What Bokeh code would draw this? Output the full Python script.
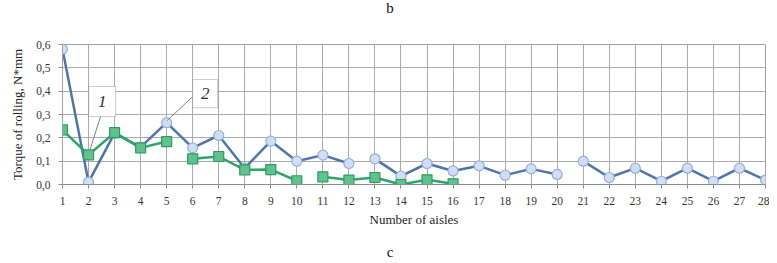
from bokeh.plotting import figure
from bokeh.models import (Range1d, FixedTicker, CustomJSTickFormatter,
                          BoxAnnotation, Label, Div)
from bokeh.layouts import column
from bokeh.embed import file_html
from bokeh.resources import INLINE
import numpy as np

aisles = list(range(1, 29))
# series 1 (blue circles); NaN marks breaks in the line
blue = [0.58, 0.01, 0.22, 0.16, 0.265, 0.157, 0.21, 0.07, 0.186, 0.10, 0.126, 0.09,
        0.11, 0.036, 0.09, 0.058, 0.08, 0.04, 0.067, 0.043,
        0.10, 0.03, 0.07, 0.014, 0.07, 0.014, 0.07, 0.019]
blue_breaks = [12, 20]  # line is broken after these aisles
# series 2 (green squares), aisles 1..16
green_x = list(range(1, 17))
green = [0.234, 0.127, 0.222, 0.157, 0.184, 0.11, 0.12, 0.063, 0.064, 0.016,
         0.033, 0.019, 0.03, 0.0, 0.02, 0.003]
green_breaks = [5, 10]

y_ticks = [0.0, 0.1, 0.2, 0.3, 0.4, 0.5, 0.6]

FONT = "Liberation Serif"

def with_breaks(xs, ys, breaks):
    ox, oy = [], []
    for x, y in zip(xs, ys):
        ox.append(x); oy.append(y)
        if x in breaks:
            ox.append(np.nan); oy.append(np.nan)
    return ox, oy

p = figure(width=769, height=214, output_backend="svg", toolbar_location=None,
           x_range=Range1d(1, 28), y_range=Range1d(0, 0.6),
           min_border_left=62, min_border_right=4, min_border_top=24, min_border_bottom=50)
p.background_fill_color = "white"
p.outline_line_color = "#a0a0a0"

p.xaxis.ticker = FixedTicker(ticks=aisles)
p.yaxis.ticker = FixedTicker(ticks=y_ticks)
p.yaxis.formatter = CustomJSTickFormatter(code="return tick.toFixed(1).replace('.', ',');")
for ax in (p.xaxis[0], p.yaxis[0]):
    ax.major_label_text_font = FONT
    ax.major_label_text_font_size = "11.5px"
    ax.major_label_text_color = "#333333"
    ax.axis_label_text_font = FONT
    ax.axis_label_text_font_style = "normal"
    ax.axis_label_text_font_size = "13px"
    ax.axis_label_text_color = "#222222"
    ax.minor_tick_line_color = None
    ax.major_tick_in = 0
    ax.major_tick_out = 4
    ax.major_tick_line_color = "#8c8c8c"
p.xaxis.axis_line_color = "#8c8c8c"
p.yaxis.axis_line_color = "#a0a0a0"
p.xaxis.axis_label = "Number of aisles"
p.yaxis.axis_label = "Torque of rolling, N*mm"
p.xaxis.major_label_standoff = 8
p.yaxis.major_label_standoff = 8
p.xaxis.axis_label_standoff = 4
p.yaxis.axis_label_standoff = 8

p.xgrid.ticker = FixedTicker(ticks=aisles)
p.ygrid.ticker = FixedTicker(ticks=y_ticks)
p.xgrid.grid_line_color = "#aaaaaa"
p.ygrid.grid_line_color = "#aaaaaa"

bx, by = with_breaks(aisles, blue, blue_breaks)
gx, gy = with_breaks(green_x, green, green_breaks)

p.line(bx, by, line_color="#4f74a8", line_width=2.5)
p.scatter(aisles, blue, marker="circle", size=10, fill_color="#d3def3",
          line_color="#95aedb", line_width=1.2)
p.line(gx, gy, line_color="#2ea46a", line_width=2.5)
p.scatter(green_x, green, marker="square", size=10, fill_color="#62c28f",
          line_color="#2e9a60", line_width=1.2)

# callout boxes
for (l, r, t, b, txt, lx, ly) in [(2.01, 3.04, 0.42, 0.291, "1", (2.46, 2.05), (0.291, 0.146)),
                                   (6.0, 6.96, 0.45, 0.329, "2", (6.04, 5.02), (0.381, 0.274))]:
    p.line(list(lx), list(ly), line_color="#7f7f7f", line_width=1)
    p.add_layout(BoxAnnotation(left=l, right=r, top=t, bottom=b, fill_color="white",
                               fill_alpha=1, line_color="#555555", line_width=1, level="annotation"))
    p.add_layout(Label(x=(l + r) / 2, y=(t + b) / 2, text=txt, text_align="center",
                       text_baseline="middle", text_font=FONT, text_font_style="italic",
                       text_font_size="17px", text_color="#333333"))

# panel letters above and below the chart
def letter(txt, top_pad, h):
    html = ('<div style="position:relative; left:380px; top:%dpx; width:20px; '
            'text-align:center; font-family:\'Liberation Serif\', serif; font-size:15px; '
            'line-height:16px; color:#111111;">%s</div>' % (top_pad, txt))
    return Div(text=html, width=769, height=h, margin=0)

d_b = letter("b", 0, 20)
d_c = letter("c", 10, 29)

layout = column(d_b, p, d_c, spacing=0)
open("out.html", "w").write(file_html(layout, INLINE))
